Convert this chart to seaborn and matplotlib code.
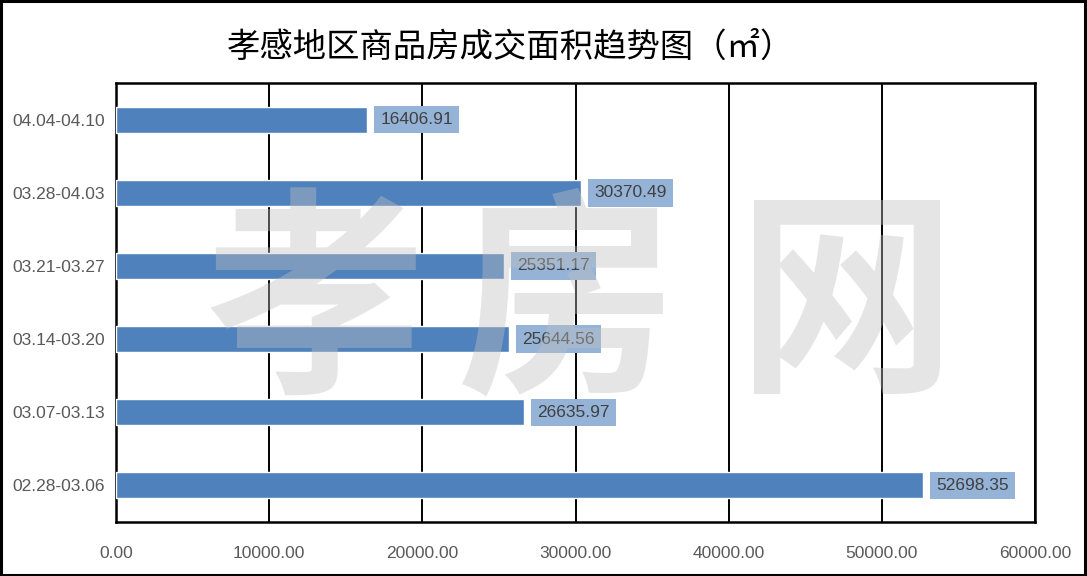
import matplotlib
matplotlib.use("Agg")
import matplotlib.pyplot as plt
import seaborn as sns
import pandas as pd
from matplotlib.patches import Rectangle

periods = ["04.04-04.10", "03.28-04.03", "03.21-03.27", "03.14-03.20", "03.07-03.13", "02.28-03.06"]
areas = [16406.91, 30370.49, 25351.17, 25644.56, 26635.97, 52698.35]
xticks = [0, 10000, 20000, 30000, 40000, 50000, 60000]
title = "孝感地区商品房成交面积趋势图（㎡）"
watermark = ["孝", "房", "网"]

sns.set_theme(style="white")
plt.rcParams['font.family'] = ['Liberation Sans', 'Noto Sans CJK SC', 'DejaVu Sans']

df = pd.DataFrame({"period": periods, "area": areas})

fig = plt.figure(figsize=(10.87, 5.76), dpi=100)
ax = fig.add_axes([116/1087, 1-522/576, (1035-116)/1087, (522-83)/576])

sns.barplot(data=df, y="period", x="area", order=periods, color="#4F81BD",
            saturation=1, width=0.355, ax=ax, zorder=3)

ax.set_xlim(0, 60000)
ax.set_xticks(xticks)
ax.set_xticklabels([f"{v:.2f}" for v in xticks])
ax.set_xlabel("")
ax.set_ylabel("")
ax.grid(axis="x", color="black", linewidth=1.4)
ax.grid(axis="y", visible=False)
ax.set_axisbelow(True)
for s in ax.spines.values():
    s.set_color("black")
    s.set_linewidth(1.8)
ax.tick_params(axis="both", length=0, labelsize=12.5, labelcolor="#595959")
ax.tick_params(axis="x", pad=17)
ax.tick_params(axis="y", pad=8)

for i, v in enumerate(areas):
    ax.annotate(f"{v:.2f}", xy=(v, i), xytext=(9.5, 0), textcoords="offset points",
                ha="left", va="center", fontsize=12.5, color="#404040", zorder=5,
                bbox=dict(boxstyle="square,pad=0.36", facecolor="#95B3D7", edgecolor="none"))

fig.text(0.470, 0.918, title, ha="center", va="center", fontsize=24,
         family=["Noto Sans CJK SC", "DejaVu Sans"], color="black")

wm_x = [315/1087, 567/1087, 846/1087]
for ch, x in zip(watermark, wm_x):
    fig.text(x, 1-310/576, ch, ha="center", va="center", fontsize=158,
             family=["Noto Sans CJK SC"], fontweight="bold", color="#c0c0c0",
             alpha=0.4, zorder=10)

fig.patches.append(Rectangle((0.001, 0.002), 0.997, 0.996, transform=fig.transFigure,
                             fill=False, edgecolor="black", linewidth=2.2, zorder=20))

fig.savefig("out.png", dpi=100)
